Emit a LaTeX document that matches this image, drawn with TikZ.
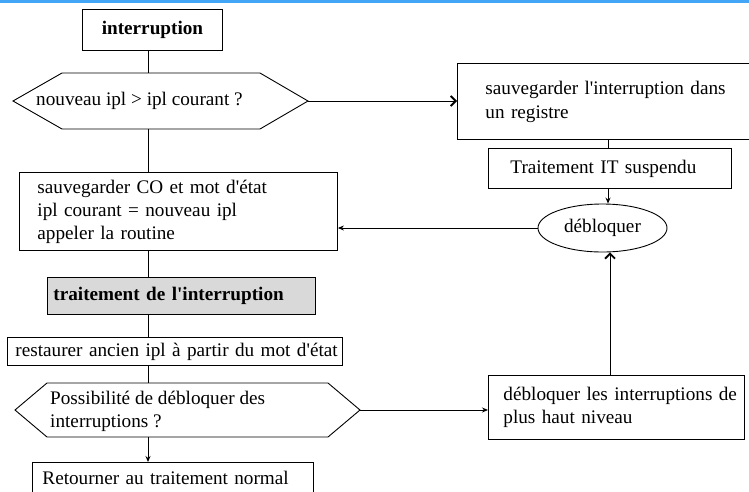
\documentclass[tikz,border=0pt]{standalone}
\usepackage{fontspec}
\setmainfont{Liberation Serif}
\usetikzlibrary{arrows.meta,shapes.geometric}
\definecolor{topbar}{HTML}{42A5F5}
\definecolor{shade}{HTML}{D9D9D9}
\newcommand{\ap}{\textquotesingle}
\newcommand{\oneline}[1]{\mbox{#1}}
\begin{document}
\begin{tikzpicture}[x=1pt,y=-1pt,
  txt/.style={font=\fontsize{19.2}{23}\selectfont},
  boldtxt/.style={font=\fontsize{19.2}{23}\selectfont\bfseries},
  flow/.style={line width=0.9pt},
  box/.style={txt, draw, line width=0.9pt, rectangle, anchor=north west, align=left, inner ysep=0pt},
  hex/.style={draw, line width=0.9pt, line join=miter},
  barb/.style={-{Straight Barb[length=5pt,width=10pt,line width=1.8pt]}},
  tip/.style={-{Stealth[length=6pt,width=5pt]}}
]
\useasboundingbox (0,0) rectangle (749,491);
\clip (0,0) rectangle (749,491);
\fill[white] (0,0) rectangle (749,491);
\fill[topbar] (0,0) rectangle (749,2.5);

% column positions of the vertical connectors
\coordinate (spine) at (148,0);
\coordinate (rcol) at (608,0);
\coordinate (ucol) at (610,0);

% hexagon corners
\coordinate (q1w) at (13,101);  \coordinate (q1nw) at (62,73);  \coordinate (q1ne) at (260,73);
\coordinate (q1e) at (308,101); \coordinate (q1se) at (260,129); \coordinate (q1sw) at (62,129);
\coordinate (q1n) at (148,73);  \coordinate (q1s) at (148,129);
\coordinate (q2w) at (15,410);  \coordinate (q2nw) at (47,383);  \coordinate (q2ne) at (328,383);
\coordinate (q2e) at (360,410); \coordinate (q2se) at (328,437); \coordinate (q2sw) at (47,437);
\coordinate (q2n) at (148,383); \coordinate (q2s) at (148,437);

% boxes
\node[box, boldtxt, align=center, inner xsep=4pt, text width=132pt, minimum height=41pt] (intr) at (82,9) {interruption};
\draw[hex] (q1w) -- (q1nw) -- (q1ne) -- (q1e) -- (q1se) -- (q1sw) -- cycle;
\node[txt, anchor=west, inner sep=0pt] (q1) at (36,101) {nouveau ipl > ipl courant ?};
\node[box, inner xsep=28pt, text width=257pt, minimum height=76pt] (save) at (457,63) {\oneline{sauvegarder l\ap interruption dans}\\[1pt]\oneline{un registre}};
\node[box, inner xsep=22pt, text width=199pt, minimum height=40pt] (susp) at (488,148) {\oneline{Traitement IT suspendu}};
\node[txt, draw, line width=0.9pt, ellipse, minimum width=129pt, minimum height=48pt, inner sep=0pt] (unlock) at (602.5,228) {\oneline{débloquer}\hspace{8pt}};
\node[box, inner xsep=18pt, text width=282pt, minimum height=78pt] (co) at (19,172) {\oneline{sauvegarder CO et mot d\ap état}\\\oneline{ipl courant = nouveau ipl}\\\oneline{appeler la routine}};
\node[box, boldtxt, fill=shade, inner xsep=6pt, text width=256pt, minimum height=37pt] (gray) at (47,277) {\oneline{traitement de l\ap interruption}};
\node[box, inner xsep=8pt, text width=319pt, minimum height=28pt] (rest) at (7,337) {\oneline{restaurer ancien ipl à partir du mot d\ap état}};
\draw[hex] (q2w) -- (q2nw) -- (q2ne) -- (q2e) -- (q2se) -- (q2sw) -- cycle;
\node[txt, anchor=west, align=left, inner sep=0pt] (q2) at (50,411) {Possibilité de débloquer des\\interruptions ?};
\node[box, inner xsep=10pt, text width=261pt, minimum height=31pt] (ret) at (32,462) {\oneline{Retourner au traitement normal}};
\node[box, inner xsep=15pt, text width=226pt, minimum height=64pt] (deb) at (488,375) {\oneline{débloquer les interruptions de}\\\oneline{plus haut niveau}};

% connectors
\draw[flow] (intr.south -| spine) -- (q1n);
\draw[flow] (q1s) -- (co.north -| spine);
\draw[flow] (co.south -| spine) -- (gray.north -| spine);
\draw[flow] (gray.south -| spine) -- (rest.north -| spine);
\draw[flow] (rest.south -| spine) -- (q2n);
\draw[flow,tip] (q2s) -- (ret.north -| spine);
\draw[flow,barb] (q1e) -- (q1e -| save.west);
\draw[flow] (save.south -| rcol) -- (susp.north -| rcol);
\draw[flow,tip] (susp.south -| rcol) -- (unlock.north -| rcol);
\draw[flow,tip] (unlock.west) -- (unlock.west -| co.east);
\draw[flow,tip] (q2e) -- (q2e -| deb.west);
\draw[flow,barb] (deb.north -| ucol) -- (unlock.south -| ucol);
\end{tikzpicture}
\end{document}
